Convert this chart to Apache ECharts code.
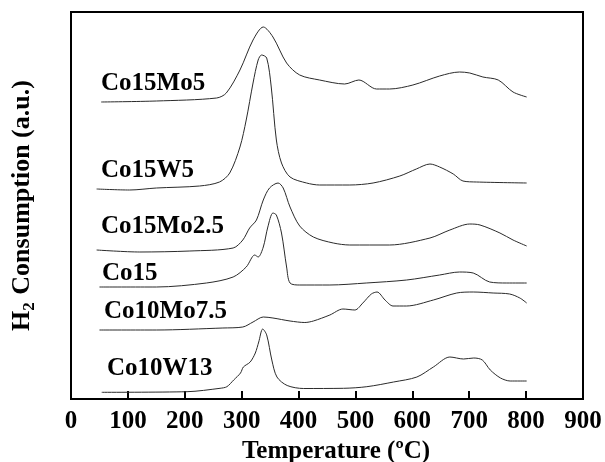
<!DOCTYPE html>
<html>
<head>
<meta charset="utf-8">
<script src="https://cdn.jsdelivr.net/npm/echarts@6/dist/echarts.min.js"></script>
<style>html,body{margin:0;padding:0;background:#fff}#c{width:605px;height:462px}</style>
</head>
<body>
<div id="c"></div>
<script>
// Temperature (ºC) vs H2 consumption (a.u., stacked offsets)
var seriesNames = ['Co15Mo5', 'Co15W5', 'Co15Mo2.5', 'Co15', 'Co10Mo7.5', 'Co10W13'];
var xTicks = [0, 100, 200, 300, 400, 500, 600, 700, 800, 900];

var co15mo5 = [[53,297],[150,298],[256,301],[273,306],[297,329],[320,359],[338,372],[355,362],[379,336],[402,324],[437,319],[481,315],[506,319],[537,310],[560,310],[601,314],[648,323],[683,327],[701,326],[724,322],[751,319],[777,307],[801,302]];
var co15w5 = [[45,210],[103,209],[150,211],[226,213],[261,217],[279,226],[297,252],[308,279],[320,316],[329,339],[335,344],[344,341],[352,312],[361,259],[370,236],[385,222],[414,216],[437,214],[490,214],[531,216],[578,223],[607,230],[631,235],[648,232],[672,225],[689,218],[713,217],[801,216]];
var co15mo25 = [[45,149],[121,147],[209,148],[285,151],[302,159],[314,171],[326,179],[338,199],[349,211],[364,216],[373,211],[385,192],[402,173],[426,162],[461,156],[490,154],[560,154],[631,161],[666,169],[701,175],[719,174],[754,166],[777,159],[801,153]];
var co15 = [[50,112],[150,112],[238,116],[285,122],[308,132],[323,144],[329,142],[338,152],[346,172],[355,186],[361,184],[370,166],[379,132],[385,116],[402,114],[455,114],[519,116],[590,119],[648,124],[683,127],[707,126],[736,117],[766,116],[801,116]];
var co10mo75 = [[50,69],[150,69],[267,71],[302,72],[320,77],[338,82],[355,81],[385,78],[411,76.5],[426,78],[455,84],[478,90],[499,89],[513,96],[528,105],[538,107],[552,99],[566,93],[590,93],[637,99],[678,106],[707,107],[742,106],[771,105],[789,101],[801,96]];
var co10w13 = [[54,6.7],[204,7.3],[262,10.7],[274,12.3],[286,19],[298,26],[303,32],[315,37],[324,46],[330,57],[337,70],[344,64],[353,39],[362,22],[380,13.5],[409,10.5],[479,10.7],[520,12.3],[567,17],[608,22],[637,32],[666,42],[690,40],[708,41],[723,39],[737,29],[755,21],[772,18],[801,18]];

var allData = [co15mo5, co15w5, co15mo25, co15, co10mo75, co10w13];
// label anchor (pixel) for each curve name
var labelPos = [[101,84],[101,171],[101,227],[102,274],[104,312],[107,369]];

var FONT = 'bold 25px "Liberation Serif", "Times New Roman", serif';
var chart = echarts.init(document.getElementById('c'));
var series = allData.map(function (d, i) {
  return {
    name: seriesNames[i], type: 'line', data: d, smooth: 0.3, showSymbol: false,
    lineStyle: { color: '#2a2a2a', width: 1 }, silent: true, animation: false
  };
});
var graphics = labelPos.map(function (p, i) {
  return { type: 'text', x: p[0], y: p[1], style: { text: seriesNames[i], font: FONT, fill: '#000', textVerticalAlign: 'middle' } };
});
chart.setOption({
  animation: false,
  grid: { left: 71, right: 22, top: 12, bottom: 63, containLabel: false, outerBoundsMode: 'none', show: true, borderColor: '#000', borderWidth: 2, backgroundColor: 'transparent' },
  xAxis: {
    type: 'value', min: 0, max: 900, interval: 100,
    name: 'Temperature (ºC)', nameLocation: 'middle', nameGap: 38,
    nameTextStyle: { fontFamily: '"Liberation Serif", serif', fontWeight: 'bold', fontSize: 25, color: '#000', padding: [0, 0, 0, 18] },
    axisLine: { show: true, lineStyle: { color: '#000', width: 2 } },
    axisTick: { show: true, inside: true, length: 8, lineStyle: { color: '#000', width: 2 } },
    axisLabel: { margin: 10, fontFamily: '"Liberation Serif", serif', fontWeight: 'bold', fontSize: 25, color: '#000', showMinLabel: true, showMaxLabel: true,
      formatter: function (v) { return xTicks.indexOf(v) >= 0 ? String(v) : ''; } },
    splitLine: { show: false }
  },
  yAxis: {
    type: 'value', min: 0, max: 387,
    name: '{h|H}{s|2}{h| Consumption (a.u.)}', nameLocation: 'middle', nameGap: 33, nameRotate: 90,
    nameTextStyle: { color: '#000', rich: {
      h: { fontFamily: '"Liberation Serif", serif', fontWeight: 'bold', fontSize: 26, color: '#000' },
      s: { fontFamily: '"Liberation Serif", serif', fontWeight: 'bold', fontSize: 17, color: '#000', verticalAlign: 'bottom', padding: [14, 1, 0, 0] }
    } },
    axisLine: { show: true, lineStyle: { color: '#000', width: 2 } },
    axisTick: { show: false }, axisLabel: { show: false }, splitLine: { show: false }
  },
  series: series,
  graphic: graphics
});
</script>
</body>
</html>
